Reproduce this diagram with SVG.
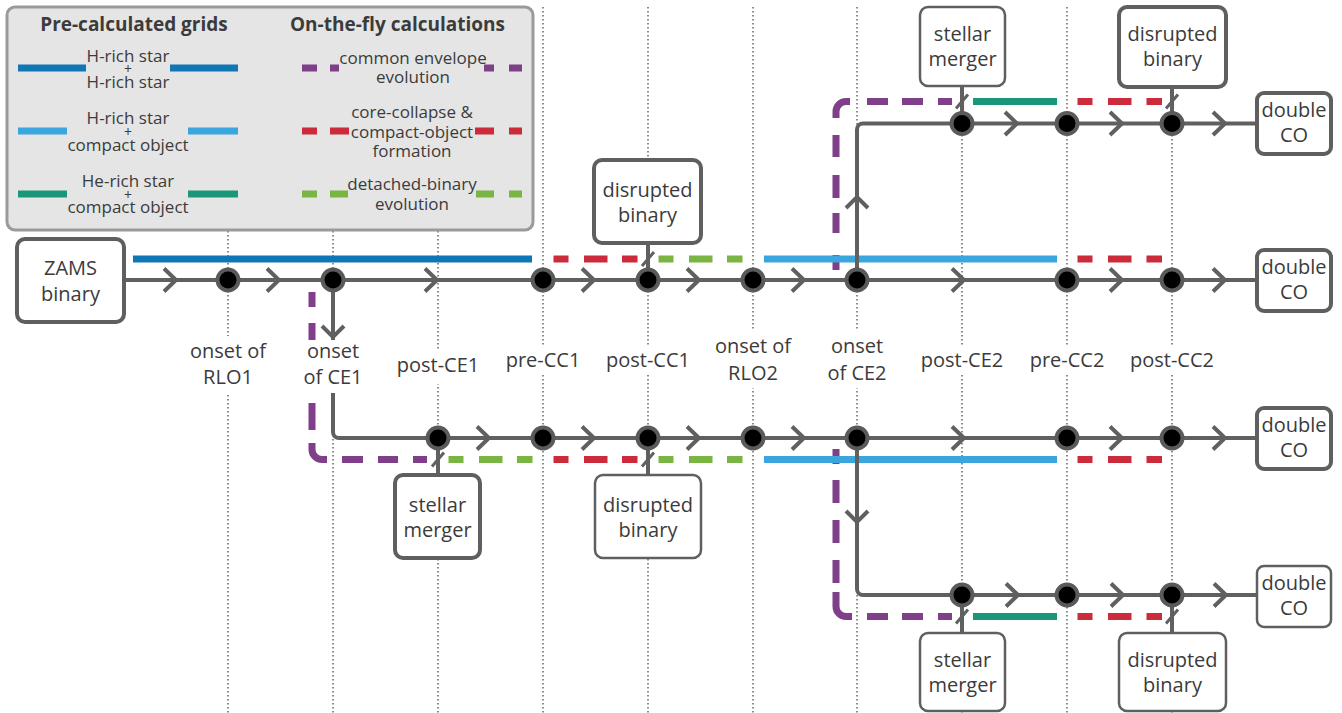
<svg xmlns="http://www.w3.org/2000/svg" width="1342" height="713" viewBox="0 0 1342 713">
<style>
text{font-family:"Open Sans","Noto Sans","DejaVu Sans",sans-serif;fill:#3b3b3b;text-anchor:middle}
.lbl{font-size:20px}
.lg{font-size:17px}
.pl{font-size:14px}
.hd{font-size:19px;font-weight:bold}
.dot{stroke:#666;stroke-width:1.5;stroke-dasharray:1.5 2.5;fill:none}
.bar{fill:none;stroke-width:7}
.db{stroke:#1077b5}.lb{stroke:#3aa6dd}.tl{stroke:#1a967a}.pu{stroke:#7f3f89}.rd{stroke:#cc2b3b}.gr{stroke:#7ab543}
.ln{fill:none;stroke:#606060;stroke-width:4}
.sl{fill:none;stroke:#606060;stroke-width:3}
.box{fill:#fff;stroke:#5f5f5f;stroke-width:2.5}
.thick{stroke-width:4}
.nd{fill:#000;stroke:#5a5a5a;stroke-width:4}
.bg{fill:#fff}
</style>
<rect width="1342" height="713" fill="#fff"/>
<g id="gridlines">
<path class="dot" d="M228,7V713M333,7V713M438,7V713M543,7V713M648,7V713M753,7V713M857,7V713M962,7V713M1067,7V713M1172,7V713"/>
</g>
<g id="legend">
<rect x="7" y="7" width="526" height="223" rx="8" fill="#e5e5e5" stroke="#9a9a9a" stroke-width="3"/>
<text class="hd" x="134" y="31">Pre-calculated grids</text>
<text class="hd" x="397.5" y="31">On-the-fly calculations</text>
<path class="bar db" d="M18,68H86M170,68H238"/>
<path class="bar lb" d="M18,131H67M188,131H238"/>
<path class="bar tl" d="M18,194H67M188,194H238"/>
<path class="bar pu" d="M302,68H317M330,68H339M484,68H494M509,68H522"/>
<path class="bar rd" d="M302,131H317M330,131H349M475,131H494M509,131H522"/>
<path class="bar gr" d="M302,194H317M330,194H348M476,194H494M509,194H522"/>
<text class="lg" x="128" y="61.5">H-rich star</text>
<text class="pl" x="128" y="73.5">+</text>
<text class="lg" x="128" y="87.5">H-rich star</text>
<text class="lg" x="128" y="124">H-rich star</text>
<text class="pl" x="128" y="136.5">+</text>
<text class="lg" x="128" y="150.5">compact object</text>
<text class="lg" x="128" y="187">He-rich star</text>
<text class="pl" x="128" y="199.5">+</text>
<text class="lg" x="128" y="212.5">compact object</text>
<text class="lg" x="413" y="64">common envelope</text>
<text class="lg" x="413" y="83">evolution</text>
<text class="lg" x="412" y="118">core-collapse &amp;</text>
<text class="lg" x="412" y="137.5">compact-object</text>
<text class="lg" x="412" y="157">formation</text>
<text class="lg" x="412" y="190">detached-binary</text>
<text class="lg" x="412" y="210">evolution</text>
</g>
<g id="phases">
<path class="bar pu" d="M836,270V255M836,233V213M836,198V175M836,157V135M836,118V111.5A10,10 0 0 1 846,101.5H850M867,101.5H888M902,101.5H923M938,101.5H952"/>
<path class="bar pu" d="M312,292V307M312,323V342M312,358V381M312,403V430M312,443V449.5A10,10 0 0 0 322,459.5H327M342,459.5H363M378,459.5H398M413,459.5H427"/>
<path class="bar pu" d="M836,449V464M836,480V503M836,520V543M836,560V583M836,592V606.5A10,10 0 0 0 846,616.5H852M867,616.5H888M902,616.5H923M938,616.5H952"/>
<path class="bar db" d="M133,259H532"/>
<path class="bar rd" d="M553.5,259H568.5M584,259H607.5M622,259H637.5M1077.5,259H1092.5M1108,259H1131.5M1146.5,259H1162"/>
<path class="bar gr" d="M658.5,259H673.5M689,259H712.5M727,259H742.5"/>
<path class="bar lb" d="M764,259H1057"/>
<path class="bar tl" d="M973,101.5H1057"/>
<path class="bar rd" d="M1077.5,101.5H1092.5M1108,101.5H1131.5M1146.5,101.5H1162"/>
<path class="bar gr" d="M448.5,459.5H463.5M479,459.5H502.5M517,459.5H532.5M658.5,459.5H673.5M689,459.5H712.5M727,459.5H742.5"/>
<path class="bar rd" d="M553.5,459.5H568.5M584,459.5H607.5M622,459.5H637.5M1077.5,459.5H1092.5M1108,459.5H1131.5M1146.5,459.5H1162"/>
<path class="bar lb" d="M764,459.5H1057"/>
<path class="bar tl" d="M973,616.5H1057"/>
<path class="bar rd" d="M1077.5,616.5H1092.5M1108,616.5H1131.5M1146.5,616.5H1162"/>
</g>
<g id="connectors">
<path class="ln" d="M124,280H1257"/>
<path class="ln" d="M857,280V129.5A6,6 0 0 1 863,123.5H1257"/>
<path class="ln" d="M333,280V432A6,6 0 0 0 339,438H1257"/>
<path class="ln" d="M857,438V589A6,6 0 0 0 863,595H1257"/>
<path class="ln" d="M648,243V280M962,86V123.5M1172,87V123.5M438,438V475M648,438V475M962,595V633M1172,595V633"/>
<path class="sl" d="M642,266L654,252M956,108.5L968,94.5M1166,108.5L1178,94.5M432,466.5L444,452.5M642,466.5L654,452.5M956,623.5L968,609.5M1166,623.5L1178,609.5"/>
<path class="ln" d="M164,268.5L176,280L164,291.5M267,268.5L279,280L267,291.5M425,268.5L437,280L425,291.5M582,268.5L594,280L582,291.5M687,268.5L699,280L687,291.5M792,268.5L804,280L792,291.5M952,268.5L964,280L952,291.5M1110,268.5L1122,280L1110,291.5M1213,268.5L1225,280L1213,291.5"/>
<path class="ln" d="M1005,112L1017,123.5L1005,135M1110,112L1122,123.5L1110,135M1213,112L1225,123.5L1213,135"/>
<path class="ln" d="M477,426.5L489,438L477,449.5M582,426.5L594,438L582,449.5M687,426.5L699,438L687,449.5M792,426.5L804,438L792,449.5M952,426.5L964,438L952,449.5M1110,426.5L1122,438L1110,449.5M1213,426.5L1225,438L1213,449.5"/>
<path class="ln" d="M1006,583.5L1018,595L1006,606.5M1111,583.5L1123,595L1111,606.5M1214,583.5L1226,595L1214,606.5"/>
<path class="ln" d="M846,208L857,197L868,208M322,326L333,337L344,326M846,511L857,522L868,511"/>
</g>
<g id="labels">
<rect class="bg" x="186" y="336" width="84" height="57"/>
<text class="lbl" x="228" y="358">onset of</text>
<text class="lbl" x="228" y="384">RLO1</text>
<rect class="bg" x="300" y="340" width="66" height="53"/>
<text class="lbl" x="333" y="358">onset</text>
<text class="lbl" x="333" y="384">of CE1</text>
<rect class="bg" x="393" y="349" width="90" height="35"/>
<text class="lbl" x="438" y="371.5">post-CE1</text>
<rect class="bg" x="505" y="345" width="76" height="28"/>
<text class="lbl" x="543" y="366.5">pre-CC1</text>
<rect class="bg" x="604" y="345" width="88" height="28"/>
<text class="lbl" x="648" y="366.5">post-CC1</text>
<rect class="bg" x="711" y="331" width="84" height="57"/>
<text class="lbl" x="753" y="353">onset of</text>
<text class="lbl" x="753" y="379.5">RLO2</text>
<rect class="bg" x="823" y="331" width="70" height="57"/>
<text class="lbl" x="857" y="353">onset</text>
<text class="lbl" x="857" y="379.5">of CE2</text>
<rect class="bg" x="917" y="345" width="90" height="28"/>
<text class="lbl" x="962" y="366.5">post-CE2</text>
<rect class="bg" x="1028" y="345" width="78" height="28"/>
<text class="lbl" x="1067" y="366.5">pre-CC2</text>
<rect class="bg" x="1127" y="345" width="90" height="28"/>
<text class="lbl" x="1172" y="366.5">post-CC2</text>
</g>
<g id="zams">
<rect class="box thick" x="17" y="239" width="107" height="83" rx="8"/>
<text class="lbl" x="70.5" y="275">ZAMS</text>
<text class="lbl" x="70.5" y="301">binary</text>
</g>
<g id="disrupted-main">
<rect class="box thick" x="594" y="160" width="107" height="83" rx="8"/>
<text class="lbl" x="647.5" y="197">disrupted</text>
<text class="lbl" x="647.5" y="222">binary</text>
</g>
<g id="merger-top">
<rect class="box" x="920" y="7" width="85" height="79" rx="8"/>
<text class="lbl" x="962.5" y="40.5">stellar</text>
<text class="lbl" x="962.5" y="66">merger</text>
</g>
<g id="disrupted-top">
<rect class="box thick" x="1119" y="7" width="107" height="80" rx="8"/>
<text class="lbl" x="1172.5" y="41">disrupted</text>
<text class="lbl" x="1172.5" y="66">binary</text>
</g>
<g id="merger-row3">
<rect class="box thick" x="395" y="475" width="85" height="83" rx="8"/>
<text class="lbl" x="437.5" y="511.5">stellar</text>
<text class="lbl" x="437.5" y="537">merger</text>
</g>
<g id="disrupted-row3">
<rect class="box" x="595" y="475" width="106" height="83" rx="8"/>
<text class="lbl" x="648" y="511.5">disrupted</text>
<text class="lbl" x="648" y="537">binary</text>
</g>
<g id="merger-row4">
<rect class="box" x="920" y="633" width="85" height="78" rx="8"/>
<text class="lbl" x="962.5" y="666.5">stellar</text>
<text class="lbl" x="962.5" y="692">merger</text>
</g>
<g id="disrupted-row4">
<rect class="box" x="1119" y="633" width="107" height="78" rx="8"/>
<text class="lbl" x="1172.5" y="666.5">disrupted</text>
<text class="lbl" x="1172.5" y="692">binary</text>
</g>
<g id="co-row1">
<rect class="box thick" x="1257" y="93" width="74" height="61" rx="7"/>
<text class="lbl" x="1294" y="116.5">double</text>
<text class="lbl" x="1294" y="142">CO</text>
</g>
<g id="co-row2">
<rect class="box thick" x="1257" y="250" width="74" height="61" rx="7"/>
<text class="lbl" x="1294" y="273.5">double</text>
<text class="lbl" x="1294" y="299">CO</text>
</g>
<g id="co-row3">
<rect class="box thick" x="1257" y="408" width="74" height="61" rx="7"/>
<text class="lbl" x="1294" y="431.5">double</text>
<text class="lbl" x="1294" y="457">CO</text>
</g>
<g id="co-row4">
<rect class="box" x="1257" y="566" width="74" height="61" rx="7"/>
<text class="lbl" x="1294" y="589.5">double</text>
<text class="lbl" x="1294" y="615">CO</text>
</g>
<g id="n-r2-rlo1"><circle class="nd" cx="228" cy="280" r="10.5"/></g>
<g id="n-r2-ce1"><circle class="nd" cx="333" cy="280" r="10.5"/></g>
<g id="n-r2-precc1"><circle class="nd" cx="543" cy="280" r="10.5"/></g>
<g id="n-r2-postcc1"><circle class="nd" cx="648" cy="280" r="10.5"/></g>
<g id="n-r2-rlo2"><circle class="nd" cx="753" cy="280" r="10.5"/></g>
<g id="n-r2-ce2"><circle class="nd" cx="857" cy="280" r="10.5"/></g>
<g id="n-r2-precc2"><circle class="nd" cx="1067" cy="280" r="10.5"/></g>
<g id="n-r2-postcc2"><circle class="nd" cx="1172" cy="280" r="10.5"/></g>
<g id="n-r1-postce2"><circle class="nd" cx="962" cy="123.5" r="10.5"/></g>
<g id="n-r1-precc2"><circle class="nd" cx="1067" cy="123.5" r="10.5"/></g>
<g id="n-r1-postcc2"><circle class="nd" cx="1172" cy="123.5" r="10.5"/></g>
<g id="n-r3-postce1"><circle class="nd" cx="438" cy="438" r="10.5"/></g>
<g id="n-r3-precc1"><circle class="nd" cx="543" cy="438" r="10.5"/></g>
<g id="n-r3-postcc1"><circle class="nd" cx="648" cy="438" r="10.5"/></g>
<g id="n-r3-rlo2"><circle class="nd" cx="753" cy="438" r="10.5"/></g>
<g id="n-r3-ce2"><circle class="nd" cx="857" cy="438" r="10.5"/></g>
<g id="n-r3-precc2"><circle class="nd" cx="1067" cy="438" r="10.5"/></g>
<g id="n-r3-postcc2"><circle class="nd" cx="1172" cy="438" r="10.5"/></g>
<g id="n-r4-postce2"><circle class="nd" cx="962" cy="595" r="10.5"/></g>
<g id="n-r4-precc2"><circle class="nd" cx="1067" cy="595" r="10.5"/></g>
<g id="n-r4-postcc2"><circle class="nd" cx="1172" cy="595" r="10.5"/></g>
</svg>
